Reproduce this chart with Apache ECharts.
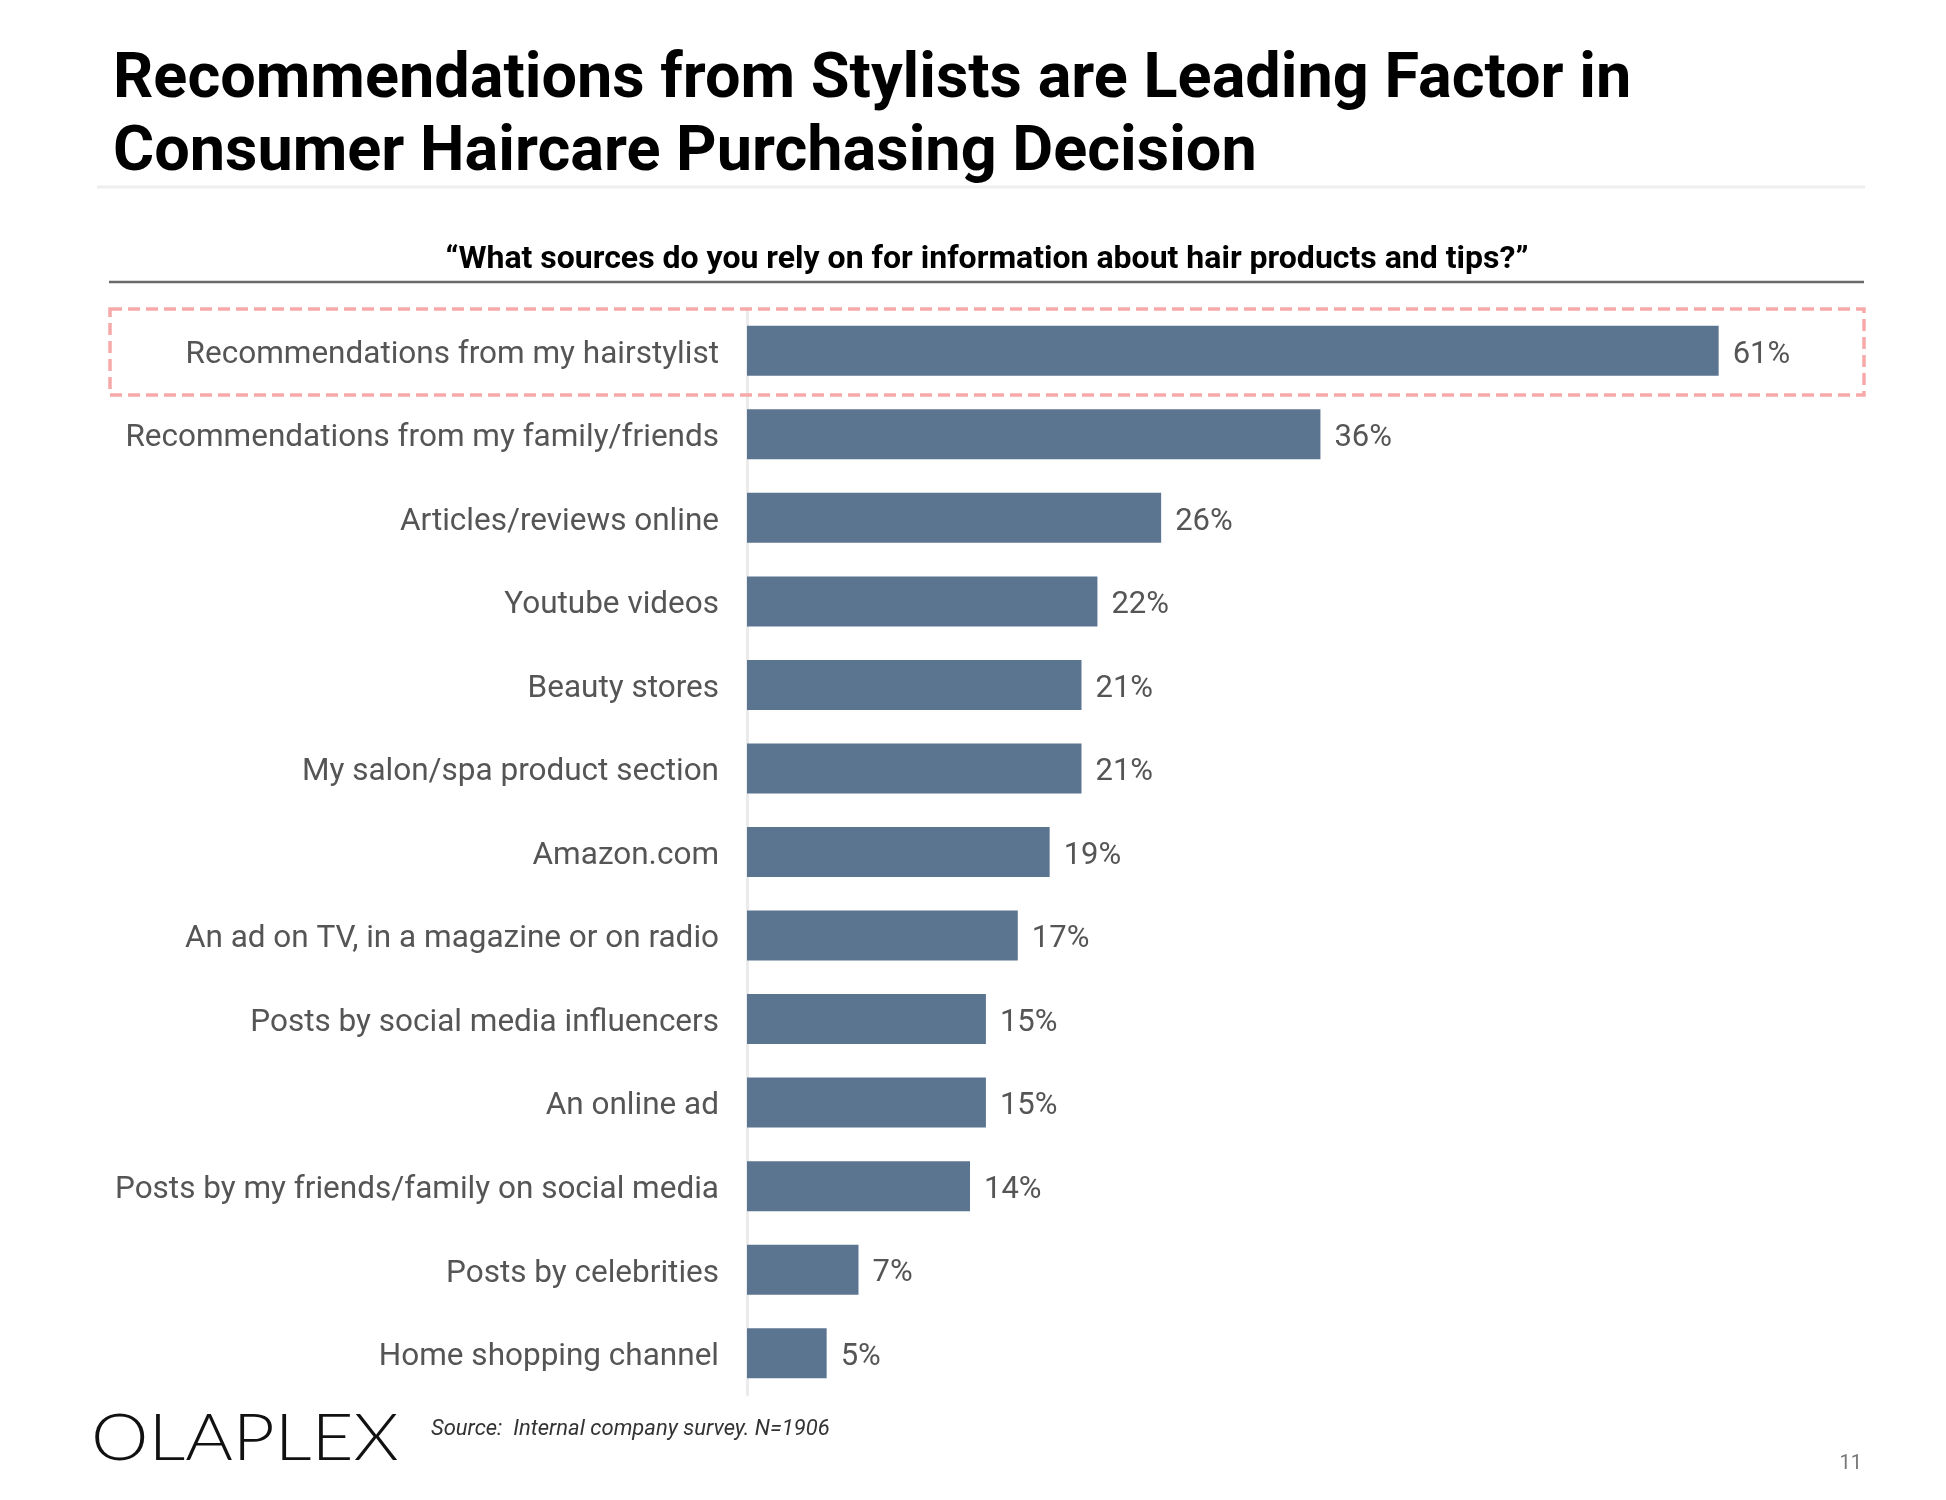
<!DOCTYPE html>
<html>
<head>
<meta charset="utf-8">
<script src="https://cdn.jsdelivr.net/npm/echarts@6/dist/echarts.min.js"></script>
<style>
html,body{margin:0;padding:0;background:#fff;}
#chart{width:1946px;height:1500px;}
</style>
</head>
<body>
<div id="chart"></div>
<script>
const categories = [
  "Recommendations from my hairstylist",
  "Recommendations from my family/friends",
  "Articles/reviews online",
  "Youtube videos",
  "Beauty stores",
  "My salon/spa product section",
  "Amazon.com",
  "An ad on TV, in a magazine or on radio",
  "Posts by social media influencers",
  "An online ad",
  "Posts by my friends/family on social media",
  "Posts by celebrities",
  "Home shopping channel"
];
const values = [61, 36, 26, 22, 21, 21, 19, 17, 15, 15, 14, 7, 5];
const titleText = "Recommendations from Stylists are Leading Factor in\nConsumer Haircare Purchasing Decision";
const subtitleText = "\u201CWhat sources do you rely on for information about hair products and tips?\u201D";
const sourceText = "Source:  Internal company survey. N=1906";
const brandText = "OLAPLEX";
const pageText = "11";

const chart = echarts.init(document.getElementById('chart'));
const labelFont = "Roboto";
chart.setOption({
  backgroundColor: '#ffffff',
  animation: false,
  title: {
    text: titleText,
    left: 108,
    top: 40,
    textStyle: {
      fontFamily: 'Roboto',
      fontWeight: 'bold',
      fontSize: 63,
      lineHeight: 73,
      color: '#000000'
    }
  },
  grid: {
    left: 747,
    top: 309,
    width: 1115,
    height: 1086,
    containLabel: false
  },
  xAxis: {
    type: 'value',
    min: 0,
    max: 70,
    show: false
  },
  yAxis: {
    type: 'category',
    data: categories,
    inverse: true,
    axisLine: { show: true, lineStyle: { color: '#ebebeb', width: 3 } },
    axisTick: { show: false },
    axisLabel: {
      margin: 28,
      formatter: function (v) { return '{c|' + v + '}'; },
      rich: {
        c: {
          fontFamily: labelFont,
          fontSize: 31.5,
          color: '#555555',
          padding: [8, 0, 0, 0]
        }
      }
    },
    splitLine: { show: false }
  },
  series: [{
    type: 'bar',
    data: values,
    barWidth: 50,
    itemStyle: { color: '#5B7591' },
    label: {
      show: true,
      position: 'right',
      distance: 14,
      offset: [0, 4],
      formatter: '{c}%',
      fontFamily: labelFont,
      fontSize: 31,
      color: '#555555'
    }
  }],
  graphic: [
    { type: 'line', shape: { x1: 97, y1: 187, x2: 1865, y2: 187 }, style: { stroke: '#eeeeee', lineWidth: 3 } },
    { type: 'text', x: 987, y: 260, style: { text: subtitleText, fontFamily: 'Roboto', fontWeight: 'bold', fontSize: 32, fill: '#000000', textAlign: 'center', textVerticalAlign: 'middle' } },
    { type: 'line', shape: { x1: 109, y1: 282, x2: 1864, y2: 282 }, style: { stroke: '#6a6a6a', lineWidth: 2.5 } },
    { type: 'rect', shape: { x: 110, y: 309, width: 1754, height: 86 }, style: { fill: 'none', stroke: '#f7a9a9', lineWidth: 3.5, lineDash: [12, 6] }, z: 10 },
    { type: 'text', x: 91, y: 1439, scaleX: 1.1, style: { text: brandText, fontFamily: 'Lato', fontWeight: 300, fontSize: 66, fill: '#111111', textVerticalAlign: 'middle' } },
    { type: 'text', x: 431, y: 1429, style: { text: sourceText, fontFamily: 'Roboto', fontStyle: 'italic', fontSize: 22, fill: '#333333', textVerticalAlign: 'middle' } },
    { type: 'text', x: 1862, y: 1464, style: { text: pageText, fontFamily: 'Roboto', fontSize: 20, fill: '#777777', textAlign: 'right', textVerticalAlign: 'middle' } }
  ]
});
</script>
</body>
</html>
